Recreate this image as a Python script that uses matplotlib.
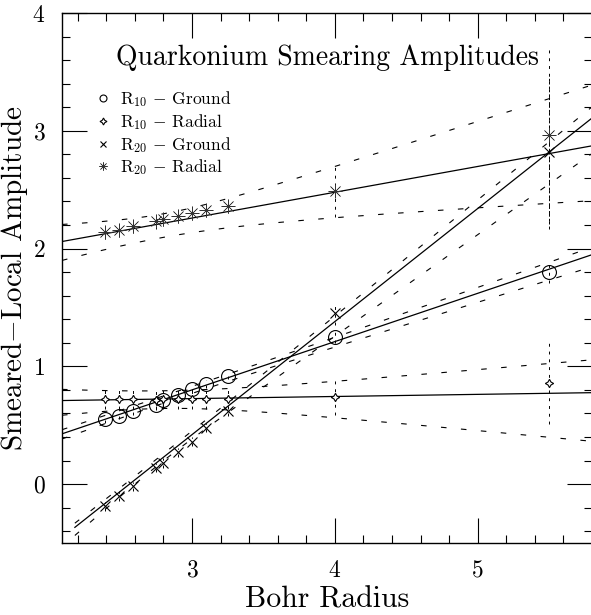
import numpy as np
import matplotlib.pyplot as plt
from matplotlib.lines import Line2D

plt.rcParams['font.family'] = 'serif'
plt.rcParams['font.serif'] = ['cmr10']
plt.rcParams['mathtext.fontset'] = 'cm'
plt.rcParams['axes.formatter.use_mathtext'] = True

# Bohr radius values (same for every series)
radius = [2.39, 2.49, 2.59, 2.75, 2.80, 2.90, 3.00, 3.10, 3.25, 4.00, 5.50]

# measured amplitudes and errors
r10_ground = [0.55, 0.58, 0.62, 0.67, 0.71, 0.76, 0.81, 0.85, 0.92, 1.25, 1.80]
r10_ground_err = [0.03, 0.03, 0.03, 0.03, 0.03, 0.03, 0.03, 0.03, 0.03, 0.05, 0.09]
r10_radial = [0.72, 0.72, 0.72, 0.71, 0.72, 0.72, 0.72, 0.72, 0.72, 0.74, 0.86]
r10_radial_err = [0.08, 0.08, 0.08, 0.08, 0.08, 0.08, 0.08, 0.08, 0.08, 0.15, 0.35]
r20_ground = [-0.19, -0.10, -0.02, 0.14, 0.18, 0.27, 0.36, 0.48, 0.62, 1.45, 2.82]
r20_ground_err = [0.04, 0.04, 0.04, 0.04, 0.04, 0.04, 0.04, 0.04, 0.04, 0.10, 0.65]
r20_radial = [2.14, 2.16, 2.19, 2.23, 2.25, 2.28, 2.30, 2.33, 2.36, 2.49, 2.96]
r20_radial_err = [0.06, 0.06, 0.06, 0.06, 0.06, 0.06, 0.06, 0.06, 0.06, 0.22, 0.75]

# linear fits (order: R10 ground, R10 radial, R20 ground, R20 radial)
fit_slope = [0.41, 0.018, 0.96, 0.219]
fit_intercept = [-0.43, 0.672, -2.46, 1.602]
fit_start = [2.09, 2.09, 2.18, 2.09]
# error band: pivot, upper (a, b), lower (a, b)
band_x0 = [3.0, 2.8, 2.8, 2.8]
band_up = [(0.03, 0.02), (0.07, 0.09), (0.03, 0.03), (0.08, 0.17)]
band_lo = [(0.03, 0.035), (0.08, 0.135), (0.03, 0.10), (0.12, 0.15)]

fig = plt.figure(figsize=(5.91, 6.15), dpi=100)
ax = fig.add_axes([62/591, 72/615, 530/591, 530/615])

for i in range(4):
    xx = np.linspace(fit_start[i], 5.8, 300)
    fit = fit_slope[i]*xx + fit_intercept[i]
    ax.plot(xx, fit, color='k', lw=0.9)
    up = fit + np.sqrt(band_up[i][0]**2 + (band_up[i][1]*(xx - band_x0[i]))**2)
    lo = fit - np.sqrt(band_lo[i][0]**2 + (band_lo[i][1]*(xx - band_x0[i]))**2)
    ax.plot(xx, up, color='k', lw=0.8, dashes=(5, 13))
    ax.plot(xx, lo, color='k', lw=0.8, dashes=(5, 13))

series = [
    (r10_ground, r10_ground_err, dict(marker='o', ms=10, mfc='none', mec='k', mew=0.8)),
    (r10_radial, r10_radial_err, dict(marker=(4, 1, 0), ms=6, mfc='white', mec='k', mew=0.8)),
    (r20_ground, r20_ground_err, dict(marker='x', ms=7, mec='k', mew=0.8)),
    (r20_radial, r20_radial_err, dict(marker=(8, 2, 0), ms=10, mec='#333333', mew=0.45)),
]
for y, err, style in series:
    eb = ax.errorbar(radius, y, yerr=err, fmt='none', ecolor='k', elinewidth=0.7, capsize=0)
    eb[2][0].set_linestyle((0, (3, 5)))
    ax.plot(radius, y, linestyle='none', **style)

handles = [
    Line2D([], [], linestyle='none', marker='o', ms=5, mfc='none', mec='k', mew=0.8),
    Line2D([], [], linestyle='none', marker=(4, 1, 0), ms=5, mfc='white', mec='k', mew=0.8),
    Line2D([], [], linestyle='none', marker='x', ms=5, mec='k', mew=0.8),
    Line2D([], [], linestyle='none', marker=(8, 2, 0), ms=6, mec='#333333', mew=0.45),
]
labels = [r'R$_{10}$ $-$ Ground', r'R$_{10}$ $-$ Radial',
          r'R$_{20}$ $-$ Ground', r'R$_{20}$ $-$ Radial']
ax.legend(handles, labels, loc='upper left', bbox_to_anchor=(0.068, 0.857),
          frameon=False, fontsize=12.5, handlelength=0.6, handletextpad=0.65,
          labelspacing=0.17, borderpad=0, borderaxespad=0)

ax.text(0.5, 0.915, 'Quarkonium Smearing Amplitudes', transform=ax.transAxes,
        ha='center', va='center', fontsize=20)

ax.set_xlim(2.09, 5.8)
ax.set_ylim(-0.5, 4)
ax.set_xticks([3, 4, 5])
ax.set_xticks(np.arange(2.2, 5.81, 0.2), minor=True)
ax.set_yticks([0, 1, 2, 3, 4])
ax.set_yticks(np.arange(-0.4, 4.0, 0.2), minor=True)
ax.tick_params(which='major', direction='in', length=18, width=0.8,
               top=True, right=True, labelsize=17, pad=12)
ax.tick_params(which='minor', direction='in', length=6, width=0.8, top=True, right=True)
for s in ax.spines.values():
    s.set_linewidth(1.0)

ax.set_xlabel('Bohr Radius', fontsize=21.5)
ax.set_ylabel('Smeared$-$Local Amplitude', fontsize=21)
ax.xaxis.set_label_coords(0.5, -0.082)
ax.yaxis.set_label_coords(-0.061, 0.5)

fig.savefig('out.png', dpi=100)
